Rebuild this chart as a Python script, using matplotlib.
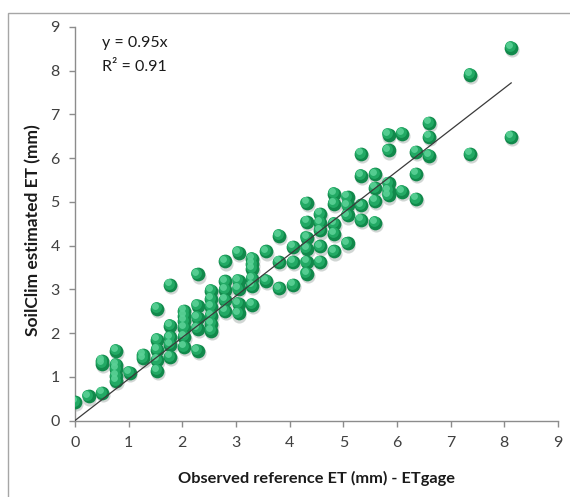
import numpy as np
import matplotlib
matplotlib.use("Agg")
import matplotlib.pyplot as plt
import matplotlib.transforms as mtransforms
from matplotlib.patches import Rectangle

# ---- data (x in multiples of 0.254 mm, ETgage 0.01 inch steps) ----
x_steps = [0, 1, 2, 3, 4, 5, 6, 7, 8, 9, 10, 11, 12, 13, 14, 15, 16, 17,
           18, 19, 20, 21, 22, 23, 24, 25, 26, 29, 32]
y_groups = [
    [0.42],
    [0.55],
    [0.63, 1.30, 1.36],
    [0.90, 1.02, 1.18, 1.28, 1.60],
    [1.09],
    [1.42, 1.50],
    [1.14, 1.38, 1.62, 1.85, 2.56],
    [1.45, 1.73, 1.90, 2.17, 3.10],
    [1.68, 1.92, 2.12, 2.27, 2.40, 2.50],
    [1.60, 2.10, 2.35, 2.63, 3.34],
    [2.05, 2.21, 2.40, 2.60, 2.78, 2.97],
    [2.50, 2.75, 2.99, 3.18, 3.64],
    [2.45, 2.67, 3.01, 3.20, 3.84],
    [2.65, 3.07, 3.24, 3.47, 3.58, 3.70],
    [3.20, 3.87],
    [3.02, 3.62, 4.23],
    [3.10, 3.62, 3.97],
    [3.36, 3.62, 3.93, 4.18, 4.54, 4.97],
    [3.62, 3.98, 4.35, 4.52, 4.72],
    [3.87, 4.27, 4.50, 4.96, 5.19],
    [4.05, 4.69, 4.92, 5.11],
    [4.58, 4.92, 5.60, 6.09],
    [4.52, 5.02, 5.32, 5.63],
    [5.15, 5.26, 5.43, 6.18, 6.54],
    [5.23, 6.56],
    [5.06, 5.64, 6.14],
    [6.06, 6.48, 6.80],
    [6.09, 7.91],
    [6.48, 8.53],
]
step_mm = 0.254
slope = 0.95
r2 = 0.91
ticks = list(range(0, 10))

x_obs = []
y_est = []
for n, ys in zip(x_steps, y_groups):
    for v in ys:
        x_obs.append(n * step_mm)
        y_est.append(v)
x_obs = np.array(x_obs)
y_est = np.array(y_est)

plt.rcParams['font.family'] = ['Lato', 'DejaVu Sans']

fig = plt.figure(figsize=(5.70, 4.97), dpi=100)
fig.patch.set_facecolor('white')
# outer frame (only top/left visible in reference)
fig.add_artist(Rectangle((8 / 570, -0.05), 1.2, 1 - 13 / 497 + 0.05,
                         transform=fig.transFigure, fill=False,
                         edgecolor='#a6a6a6', linewidth=1.0))

ax = fig.add_axes([75 / 570, 1 - 420.5 / 497, 483 / 570, (420.5 - 27) / 497])
ax.set_xlim(0, 9)
ax.set_ylim(0, 9)
ax.set_xticks(ticks)
ax.set_yticks(ticks)
for s in ['top', 'right']:
    ax.spines[s].set_visible(False)
for s in ['left', 'bottom']:
    ax.spines[s].set_color('#8c8c8c')
    ax.spines[s].set_linewidth(1.0)
ax.tick_params(direction='out', length=4, width=1.0, color='#8c8c8c',
               labelsize=11.5, labelcolor='#404040', pad=7)

# sphere-like markers
ms = 98
shadow = mtransforms.offset_copy(ax.transData, fig=fig, x=0.6, y=-1.6, units='points')
hi = mtransforms.offset_copy(ax.transData, fig=fig, x=-0.9, y=1.0, units='points')
hi2 = mtransforms.offset_copy(ax.transData, fig=fig, x=-1.6, y=2.0, units='points')
ax.scatter(x_obs, y_est, s=ms * 1.05, color='#9aa5a0', alpha=0.45,
           linewidths=0, transform=shadow, zorder=2)
ax.scatter(x_obs, y_est, s=ms, color='#11894b', linewidths=0, zorder=3)
ax.scatter(x_obs, y_est, s=ms * 0.62, color='#22a964', linewidths=0,
           transform=hi, zorder=4)
ax.scatter(x_obs, y_est, s=ms * 0.25, color='#5ad196', linewidths=0,
           transform=hi2, zorder=5, alpha=0.9)

# trend line through origin
xl = np.array([0, x_obs.max()])
ax.plot(xl, slope * xl, color='#3a3a3a', linewidth=0.9, zorder=6)

ax.text(102 / 570, 1 - 43 / 497, f"y = {slope:.2f}x", transform=fig.transFigure,
        fontsize=11.5, color='#1a1a1a', va='center', ha='left')
ax.text(102 / 570, 1 - 67 / 497, f"R² = {r2:.2f}", transform=fig.transFigure,
        fontsize=11.5, color='#1a1a1a', va='center', ha='left')

fig.text((75 + 558) / 2 / 570, 1 - 478 / 497, "Observed reference ET (mm) - ETgage",
         ha='center', va='center', fontsize=11.8, fontweight='bold', color='#1a1a1a')
fig.text(33 / 570, 1 - 230 / 497, "SoilClim estimated ET (mm)", rotation=90,
         ha='center', va='center', fontsize=12.5, fontweight='bold', color='#1a1a1a')

fig.savefig("out.png", dpi=100, facecolor='white')
